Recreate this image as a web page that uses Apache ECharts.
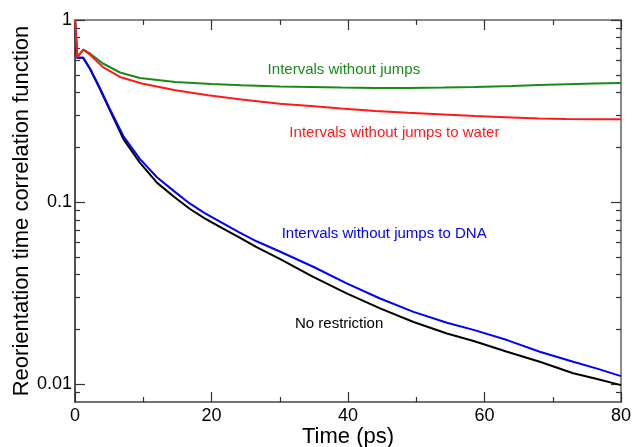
<!DOCTYPE html>
<html>
<head>
<meta charset="utf-8">
<script src="https://cdn.jsdelivr.net/npm/echarts@6/dist/echarts.min.js"></script>
<style>html,body{margin:0;padding:0;background:#fff;}#c{width:634px;height:447px;}</style>
</head>
<body>
<div id="c"></div>
<script>
// ---- data (time in ps, correlation value) ----
var xTicks = [0, 20, 40, 60, 80];
var yTickLabels = [0.01, 0.1, 1];
var yMinorTicks = [0.009, 0.02, 0.03, 0.04, 0.05, 0.06, 0.07, 0.08, 0.09, 0.2, 0.3, 0.4, 0.5, 0.6, 0.7, 0.8, 0.9];

var noRestriction = [[0,1],[0.3,0.62],[1.2,0.62],[2.2,0.54],[3.5,0.43],[5.1,0.32],[7.1,0.222],[9.5,0.165],[12,0.128],[14.5,0.107],[16.8,0.092],[19,0.0815],[21.7,0.0715],[24,0.0643],[26.6,0.0566],[30,0.0489],[34.9,0.0389],[39.8,0.0316],[44.7,0.0261],[49.6,0.022],[54.5,0.019],[58.4,0.0173],[63.3,0.0151],[68.1,0.0133],[73,0.0115],[76.5,0.0107],[80,0.0099]];
var noJumpsToDNA = [[0,1],[0.3,0.62],[1.2,0.62],[2.2,0.54],[3.5,0.435],[5.1,0.325],[7.1,0.23],[9.5,0.173],[12,0.137],[14.5,0.115],[16.8,0.0984],[19,0.087],[21.7,0.0764],[24,0.0684],[26.6,0.061],[30,0.0536],[34.9,0.0442],[39.8,0.0358],[44.7,0.0296],[49.6,0.025],[54.5,0.0218],[58.4,0.0199],[63.3,0.0175],[68.1,0.0151],[73,0.0133],[76.5,0.0122],[80,0.0111]];
var noJumps = [[0,1],[0.35,0.625],[1.2,0.688],[2.2,0.655],[4.1,0.577],[6.6,0.515],[9.5,0.48],[14.7,0.457],[20,0.445],[24.4,0.438],[30,0.431],[39,0.426],[44,0.424],[48.8,0.424],[54,0.426],[58.6,0.429],[64,0.434],[68,0.44],[72,0.444],[76,0.448],[80,0.451]];
var noJumpsToWater = [[0,1],[0.35,0.625],[1.2,0.688],[2.2,0.645],[4.1,0.552],[6.6,0.487],[9.8,0.448],[14.7,0.411],[19.5,0.386],[24.4,0.366],[30,0.347],[35,0.336],[39,0.327],[44,0.317],[48.8,0.31],[54,0.303],[58.6,0.297],[64,0.292],[68,0.288],[72,0.286],[76,0.285],[80,0.285]];

var seriesNames = ['No restriction', 'Intervals without jumps to DNA', 'Intervals without jumps', 'Intervals without jumps to water'];

// ---- chart ----
var FONT = 'Liberation Sans, Arial, Helvetica, sans-serif';
var chart = echarts.init(document.getElementById('c'), null, {renderer: 'canvas'});

function yAxisDef(pos, major) {
  return {
    type: 'log', position: pos, min: 0.008, max: 1, logBase: 10,
    axisLine: {show: true, onZero: false, lineStyle: {color: pos === 'left' ? '#444' : '#888', width: pos === 'left' ? 1.5 : 2}},
    axisTick: {show: true, inside: true, length: major ? 10 : 5, lineStyle: {color: '#333', width: 1.2},
      customValues: major ? yTickLabels : yMinorTicks},
    minorTick: {show: false},
    splitLine: {show: false},
    axisLabel: major && pos === 'left' ? {show: true, customValues: yTickLabels, fontSize: 18, color: '#000', fontFamily: FONT, margin: 3,
      formatter: function (v) { return String(+v.toPrecision(3)); }} : {show: false},
    name: major && pos === 'left' ? 'Reorientation time correlation function' : '',
    nameLocation: 'middle', nameGap: 42, nameMoveOverlap: false,
    nameTextStyle: {fontSize: 22, color: '#000', fontFamily: FONT}
  };
}

function xAxisDef(pos) {
  return {
    type: 'value', position: pos, min: 0, max: 80, interval: 20,
    axisLine: {show: true, onZero: false, lineStyle: {color: pos === 'bottom' ? '#444' : '#888', width: pos === 'bottom' ? 1.5 : 2}},
    axisTick: {show: true, inside: true, length: 10, lineStyle: {color: '#333', width: 1.2}},
    minorTick: {show: true, splitNumber: 2, length: 5, lineStyle: {color: '#333', width: 1.2}},
    splitLine: {show: false}, minorSplitLine: {show: false},
    axisLabel: pos === 'bottom' ? {show: true, fontSize: 18, color: '#000', fontFamily: FONT, margin: 5,
      customValues: xTicks} : {show: false},
    name: pos === 'bottom' ? 'Time (ps)' : '',
    nameLocation: 'middle', nameGap: 24, nameMoveOverlap: false,
    nameTextStyle: {fontSize: 22, color: '#000', fontFamily: FONT}
  };
}

function lineSeries(name, data, color, note, coord) {
  return {
    name: name, type: 'line', data: data, xAxisIndex: 0, yAxisIndex: 0,
    showSymbol: false, symbol: 'none', smooth: false,
    lineStyle: {color: color, width: 2}, itemStyle: {color: color},
    silent: true,
    markPoint: {
      symbol: 'circle', symbolSize: 0, silent: true,
      label: {show: true, position: 'inside', formatter: note, color: color, fontSize: 15, fontFamily: FONT},
      data: [{coord: coord}]
    }
  };
}

chart.setOption({
  animation: false,
  backgroundColor: '#fff',
  grid: {left: 75, right: 13, top: 20, bottom: 45, containLabel: false, outerBoundsMode: 'none'},
  xAxis: [xAxisDef('bottom'), xAxisDef('top')],
  yAxis: [yAxisDef('left', true), yAxisDef('left', false), yAxisDef('right', true), yAxisDef('right', false)],
  series: [
    lineSeries(seriesNames[0], noRestriction, '#000000', seriesNames[0], [38.7, 0.0214]),
    lineSeries(seriesNames[1], noJumpsToDNA, '#0000ff', seriesNames[1], [45.3, 0.0668]),
    lineSeries(seriesNames[2], noJumps, '#1a8a1a', seriesNames[2], [39.4, 0.53]),
    lineSeries(seriesNames[3], noJumpsToWater, '#ff1a1a', seriesNames[3], [46.8, 0.239])
  ]
});
</script>
</body>
</html>
